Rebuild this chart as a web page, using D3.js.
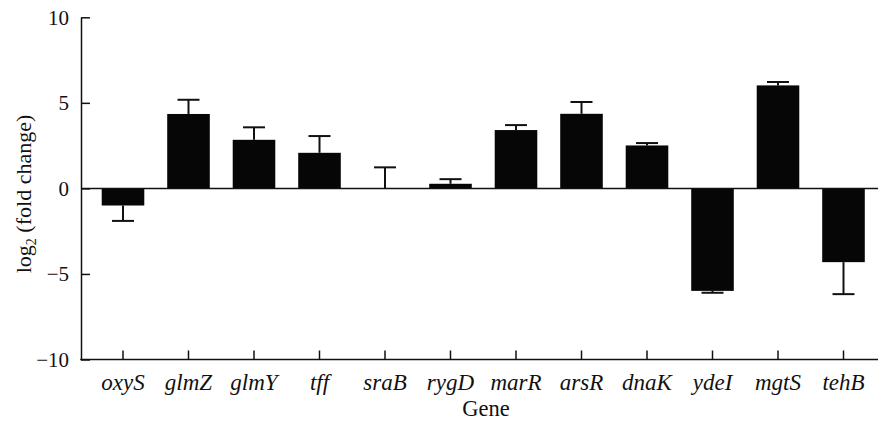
<!DOCTYPE html>
<html><head><meta charset="utf-8">
<script src="https://cdn.jsdelivr.net/npm/d3@7"></script>
<style>body{margin:0;background:#fff}</style>
</head><body>
<svg id="c" width="880" height="421"></svg>
<script>
const genes = ["oxyS","glmZ","glmY","tff","sraB","rygD","marR","arsR","dnaK","ydeI","mgtS","tehB"];
const values = [-1.0, 4.35, 2.84, 2.08, 0, 0.27, 3.41, 4.36, 2.51, -5.99, 6.02, -4.31];
const errEnds = [-1.9, 5.18, 3.57, 3.06, 1.23, 0.54, 3.70, 5.05, 2.65, -6.1, 6.22, -6.18];
const yTicks = [-10, -5, 0, 5, 10];

const svg = d3.select("#c");
const font = "'Liberation Serif','Times New Roman',serif";
const axisLeftX = 81;
const x = d3.scaleBand().domain(genes).range([90.25, 876.25]).paddingInner(0.35).paddingOuter(0.175);
const y = d3.scaleLinear().domain([-10, 10]).range([359.5, 17.3]);

// bars
svg.append("g").selectAll("rect").data(genes).join("rect")
  .attr("x", d => x(d))
  .attr("width", x.bandwidth())
  .attr("y", (d,i) => y(Math.max(0, values[i])))
  .attr("height", (d,i) => Math.abs(y(values[i]) - y(0)))
  .attr("fill", "#060606");

// error bars
const eg = svg.append("g").attr("stroke", "#111").attr("stroke-width", 2);
genes.forEach((g, i) => {
  const cx = x(g) + x.bandwidth()/2;
  eg.append("line").attr("x1", cx).attr("x2", cx).attr("y1", y(values[i])).attr("y2", y(errEnds[i]));
  eg.append("line").attr("x1", cx - 11).attr("x2", cx + 11).attr("y1", y(errEnds[i])).attr("y2", y(errEnds[i]));
});

// zero line
svg.append("line").attr("x1", axisLeftX).attr("x2", 878).attr("y1", y(0)).attr("y2", y(0))
  .attr("stroke", "#111").attr("stroke-width", 1.5);

// y axis
const ya = svg.append("g").attr("transform", `translate(${axisLeftX},0)`)
  .call(d3.axisLeft(y).tickValues(yTicks).tickSize(-9).tickPadding(12).tickSizeOuter(0));
ya.select(".domain").attr("stroke", "#111").attr("stroke-width", 1.5);
ya.selectAll(".tick line").attr("stroke", "#111").attr("stroke-width", 1.5);
ya.selectAll(".tick text").attr("font-family", font).attr("font-size", 21).attr("fill", "#111");

// x axis
const xa = svg.append("g").attr("transform", `translate(0,${y(-10)})`)
  .call(d3.axisBottom(x).tickSize(-9).tickPadding(14).tickSizeOuter(0));
xa.select(".domain").remove();
xa.selectAll(".tick line").attr("stroke", "#111").attr("stroke-width", 1.5);
xa.selectAll(".tick text").attr("font-family", font).attr("font-size", 23).attr("font-style", "italic").attr("fill", "#111");
svg.append("line").attr("x1", axisLeftX - 0.75).attr("x2", 878).attr("y1", y(-10)).attr("y2", y(-10))
  .attr("stroke", "#111").attr("stroke-width", 1.5);

// axis titles
svg.append("text").attr("x", 486).attr("y", 416).attr("text-anchor", "middle")
  .attr("font-family", font).attr("font-size", 22.5).attr("fill", "#111").text("Gene");

const yl = svg.append("text").attr("transform", "translate(31,194) rotate(-90)")
  .attr("text-anchor", "middle").attr("font-family", font).attr("font-size", 22).attr("fill", "#111");
yl.append("tspan").text("log");
yl.append("tspan").attr("font-size", 14).attr("dy", 5).text("2");
yl.append("tspan").attr("dy", -5).text(" (fold change)");
</script>
</body></html>
